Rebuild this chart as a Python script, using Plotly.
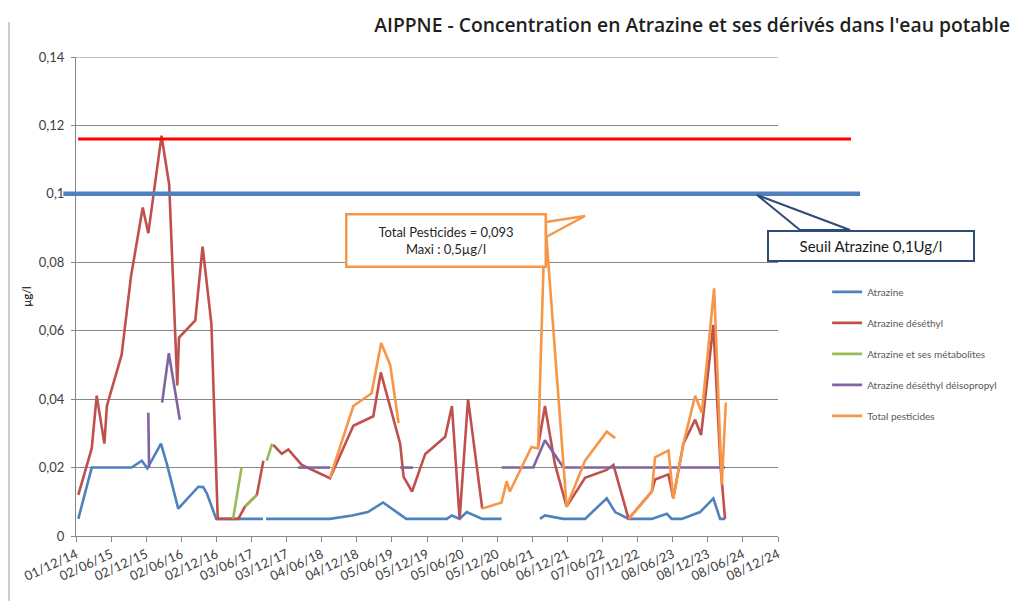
import plotly.graph_objects as go
import pandas as pd

# ---------------- data ----------------
tick_labels = ["01/12/14", "02/06/15", "02/12/15", "02/06/16", "02/12/16", "03/06/17",
               "03/12/17", "04/06/18", "04/12/18", "05/06/19", "05/12/19", "05/06/20",
               "05/12/20", "06/06/21", "06/12/21", "07/06/22", "07/12/22", "08/06/23",
               "08/12/23", "08/06/24", "08/12/24"]
y_tick_values = [0, 0.02, 0.04, 0.06, 0.08, 0.10, 0.12, 0.14]
y_tick_labels = ["0", "0,02", "0,04", "0,06", "0,08", "0,1", "0,12", "0,14"]

atrazine_dates = ["2014-12-13", "2015-02-21", "2015-09-17", "2015-11-09", "2015-12-08", "2016-02-17",
                  "2016-03-19", "2016-05-17", "2016-08-30", "2016-09-24", "2016-10-13", "2016-12-01",
                  "2017-08-02", None, "2017-08-18", "2018-07-17", "2018-11-10", "2019-01-31",
                  "2019-04-20", "2019-08-19", "2020-03-17", "2020-04-13", "2020-05-23", "2020-06-29",
                  "2020-09-18", "2020-12-28", None, "2021-07-16", "2021-08-11", "2021-11-15",
                  "2022-03-08", "2022-06-29", "2022-08-12", "2022-10-21", "2023-02-19", "2023-05-08",
                  "2023-06-03", "2023-07-25", "2023-10-03", "2023-10-29", "2024-01-06", "2024-02-10",
                  "2024-03-07"]
atrazine_values = [0.005, 0.020, 0.020, 0.022, 0.0198, 0.027,
                   0.021, 0.008, 0.0144, 0.0143, 0.0125, 0.005,
                   0.005, None, 0.005, 0.005, 0.006, 0.007,
                   0.0098, 0.005, 0.005, 0.006, 0.005, 0.007,
                   0.005, 0.005, None, 0.005, 0.006, 0.005,
                   0.005, 0.011, 0.007, 0.005, 0.005, 0.0065,
                   0.005, 0.005, 0.0066, 0.007, 0.011, 0.005,
                   0.005]

deethyl_dates = ["2014-12-13", "2015-02-21", "2015-03-19", "2015-04-28", "2015-05-11", "2015-07-27",
                 "2015-09-14", "2015-11-14", "2015-12-13", "2016-02-20", "2016-03-31", "2016-05-12",
                 "2016-05-21", "2016-08-14", "2016-09-21", "2016-11-06", "2016-12-09", "2017-03-26",
                 "2017-04-30", "2017-07-01", "2017-08-04", None, "2017-09-25", "2017-11-08",
                 "2017-12-12", "2018-02-20", "2018-07-17", "2018-11-16", "2019-02-28", "2019-04-08",
                 "2019-07-18", "2019-08-05", "2019-09-18", "2019-11-26", "2020-03-09", "2020-04-13",
                 "2020-05-23", "2020-07-06", "2020-09-18", None, "2021-07-06", "2021-08-11",
                 "2021-10-02", "2021-12-02", "2022-03-08", "2022-06-29", "2022-08-03", "2022-10-21",
                 "2023-02-19", "2023-03-08", "2023-05-17", "2023-06-11", "2023-08-03", "2023-10-03",
                 "2023-11-03", "2024-01-06", "2024-02-13", "2024-03-07"]
deethyl_values = [0.012, 0.0256, 0.041, 0.027, 0.038, 0.053,
                  0.076, 0.096, 0.0885, 0.117, 0.1026, 0.044,
                  0.058, 0.063, 0.0846, 0.062, 0.005, 0.005,
                  0.0086, 0.012, 0.022, None, 0.0266, 0.024,
                  0.0253, 0.0208, 0.0169, 0.0322, 0.035, 0.0478,
                  0.027, 0.0173, 0.013, 0.024, 0.029, 0.038,
                  0.005, 0.040, 0.008, None, 0.026, 0.038,
                  0.021, 0.0086, 0.017, 0.0193, 0.0208, 0.005,
                  0.013, 0.0165, 0.018, 0.011, 0.027, 0.034,
                  0.0295, 0.0617, 0.020, 0.005]

metabolites_dates = ["2017-02-27", "2017-04-12", None, "2017-04-30", "2017-07-01", None,
                     "2017-08-21", "2017-09-19"]
metabolites_values = [0.005, 0.020, None, 0.0086, 0.012, None, 0.022, 0.027]

deisopropyl_dates = ["2015-12-13", "2015-12-17", None, "2016-02-23", "2016-03-29", "2016-05-25", None,
                     "2018-02-01", "2018-07-17", None, "2019-07-18", "2019-09-23", None,
                     "2020-12-28", "2021-06-11", "2021-08-11", "2021-10-19", "2021-11-15", "2024-03-07"]
deisopropyl_values = [0.036, 0.020, None, 0.039, 0.0534, 0.034, None,
                      0.020, 0.020, None, 0.020, 0.020, None,
                      0.020, 0.020, 0.028, 0.022, 0.020, 0.020]

total_dates = ["2018-07-17", "2018-11-16", "2019-02-19", "2019-04-10", "2019-05-27", "2019-07-10", None,
               "2020-09-18", "2020-12-28", "2021-01-23", "2021-02-09", "2021-06-02", "2021-07-06",
               "2021-08-11", "2021-12-02", "2022-03-08", "2022-06-29", "2022-08-12", None,
               "2022-10-21", "2023-02-19", "2023-03-08", "2023-05-17", "2023-06-11", "2023-08-03",
               "2023-10-03", "2023-11-07", "2024-01-10", "2024-02-19", "2024-03-11"]
total_values = [0.017, 0.038, 0.0417, 0.0564, 0.050, 0.033, None,
                0.008, 0.0098, 0.016, 0.013, 0.026, 0.0256,
                0.093, 0.0086, 0.022, 0.0305, 0.0286, None,
                0.005, 0.013, 0.023, 0.025, 0.011, 0.027,
                0.041, 0.036, 0.0724, 0.015, 0.039]

series_names = ["Atrazine", "Atrazine déséthyl", "Atrazine et ses métabolites",
                "Atrazine déséthyl déisopropyl", "Total pesticides"]
series_colors = ["#4F81BD", "#C0504D", "#9BBB59", "#8064A2", "#F79646"]

threshold_atrazine = 0.10
threshold_deethyl = 0.116

title_text = "AIPPNE - Concentration en Atrazine et ses dérivés dans l'eau potable"
note_total = "Total Pesticides = 0,093<br>Maxi : 0,5µg/l"
note_seuil = "Seuil Atrazine 0,1Ug/l"

# ---------------- figure ----------------
tick_dates = pd.to_datetime(tick_labels, format="%d/%m/%y")

fig = go.Figure()
all_series = [
    (atrazine_dates, atrazine_values),
    (deethyl_dates, deethyl_values),
    (metabolites_dates, metabolites_values),
    (deisopropyl_dates, deisopropyl_values),
    (total_dates, total_values),
]
for i, ((d, v), name, col) in enumerate(zip(all_series, series_names, series_colors)):
    fig.add_trace(go.Scatter(x=d, y=v, mode="lines", name=name,
                             line=dict(color=col, width=2.6),
                             connectgaps=False, legendgroup="g%d" % i,
                             hoverinfo="x+y+name"))

base_font = "Lato, 'Open Sans', sans-serif"

# page body has an 8px margin: figure is placed at (8, 8)
W, H = 1027, 593

shapes = [
    # top gridline at the end of the value axis
    dict(type="line", xref="paper", yref="y", x0=0, x1=1,
         y0=y_tick_values[-1], y1=y_tick_values[-1],
         line=dict(color="#868686", width=1), layer="below"),
    # threshold lines (extend beyond the plot area as in the reference)
    dict(type="line", xref="paper", yref="y", x0=0.003, x1=1.104,
         y0=threshold_deethyl, y1=threshold_deethyl,
         line=dict(color="#FF0000", width=3), layer="above"),
    dict(type="line", xref="paper", yref="y", x0=-0.018, x1=1.117,
         y0=threshold_atrazine, y1=threshold_atrazine,
         line=dict(color="#4F81BD", width=4.5), layer="above"),
    # callout pointers
    dict(type="path", xref="paper", yref="paper",
         path="M 0.6695,0.6555 L 0.7251,0.6681 L 0.6695,0.6242 Z",
         fillcolor="white", line=dict(color="#F79646", width=2.5), layer="above"),
    dict(type="path", xref="paper", yref="paper",
         path="M 1.0313,0.6388 L 0.9701,0.7119 L 1.1026,0.6388 Z",
         fillcolor="white", line=dict(color="#2F4B78", width=2), layer="above"),
    # left frame line
    dict(type="line", xref="paper", yref="paper", x0=-0.0954, x1=-0.0954, y0=1.073, y1=-0.14,
         line=dict(color="#9A9A9A", width=1)),
]

annotations = [
    dict(text=note_total, xref="paper", yref="paper", x=0.3832, y=0.6743,
         xanchor="left", yanchor="top", showarrow=False, align="center",
         width=197, height=50, borderpad=0, borderwidth=2.5,
         bordercolor="#F79646", bgcolor="white",
         font=dict(family=base_font, size=13, color="#262626")),
    dict(text=note_seuil, xref="paper", yref="paper", x=0.9843, y=0.6388,
         xanchor="left", yanchor="top", showarrow=False, align="center",
         width=204, height=28, borderpad=0, borderwidth=2,
         bordercolor="#2F4B78", bgcolor="white",
         font=dict(family=base_font, size=15, color="#1A1A1A")),
]

fig.update_layout(
    width=W, height=H,
    margin=dict(l=68, r=257, t=49, b=65),
    paper_bgcolor="white", plot_bgcolor="white",
    title=dict(text=title_text, x=1002 / W, xanchor="right", xref="container",
               y=1 - 17 / H, yanchor="middle", yref="container",
               font=dict(family="'Open Sans', sans-serif", size=19.3, color="#1F1F1F", weight=600)),
    showlegend=True,
    legend=dict(x=1.07, y=0.540, xanchor="left", yanchor="top",
                font=dict(family=base_font, size=10, color="#595959"),
                tracegroupgap=12, bgcolor="rgba(0,0,0,0)"),
    shapes=shapes,
    annotations=annotations,
    xaxis=dict(type="date", range=["2014-12-01", "2024-12-08"],
               tickvals=tick_dates, ticktext=tick_labels, tickangle=-25,
               ticks="outside", ticklen=5, tickcolor="#868686",
               showline=True, linecolor="#868686", linewidth=1,
               showgrid=False, zeroline=False,
               tickfont=dict(family=base_font, size=13, color="#404040")),
    yaxis=dict(range=[0, 0.14], tickvals=y_tick_values, ticktext=y_tick_labels,
               showgrid=True, gridcolor="#868686", gridwidth=1,
               showline=True, linecolor="#868686", linewidth=1,
               ticks="outside", ticklen=4, tickcolor="#868686", zeroline=False,
               ticklabelstandoff=4,
               tickfont=dict(family=base_font, size=13, color="#404040"),
               title=dict(text="µg/l", standoff=4,
                          font=dict(family=base_font, size=11, color="#000000"))),
)

fig.write_html("out.html")
